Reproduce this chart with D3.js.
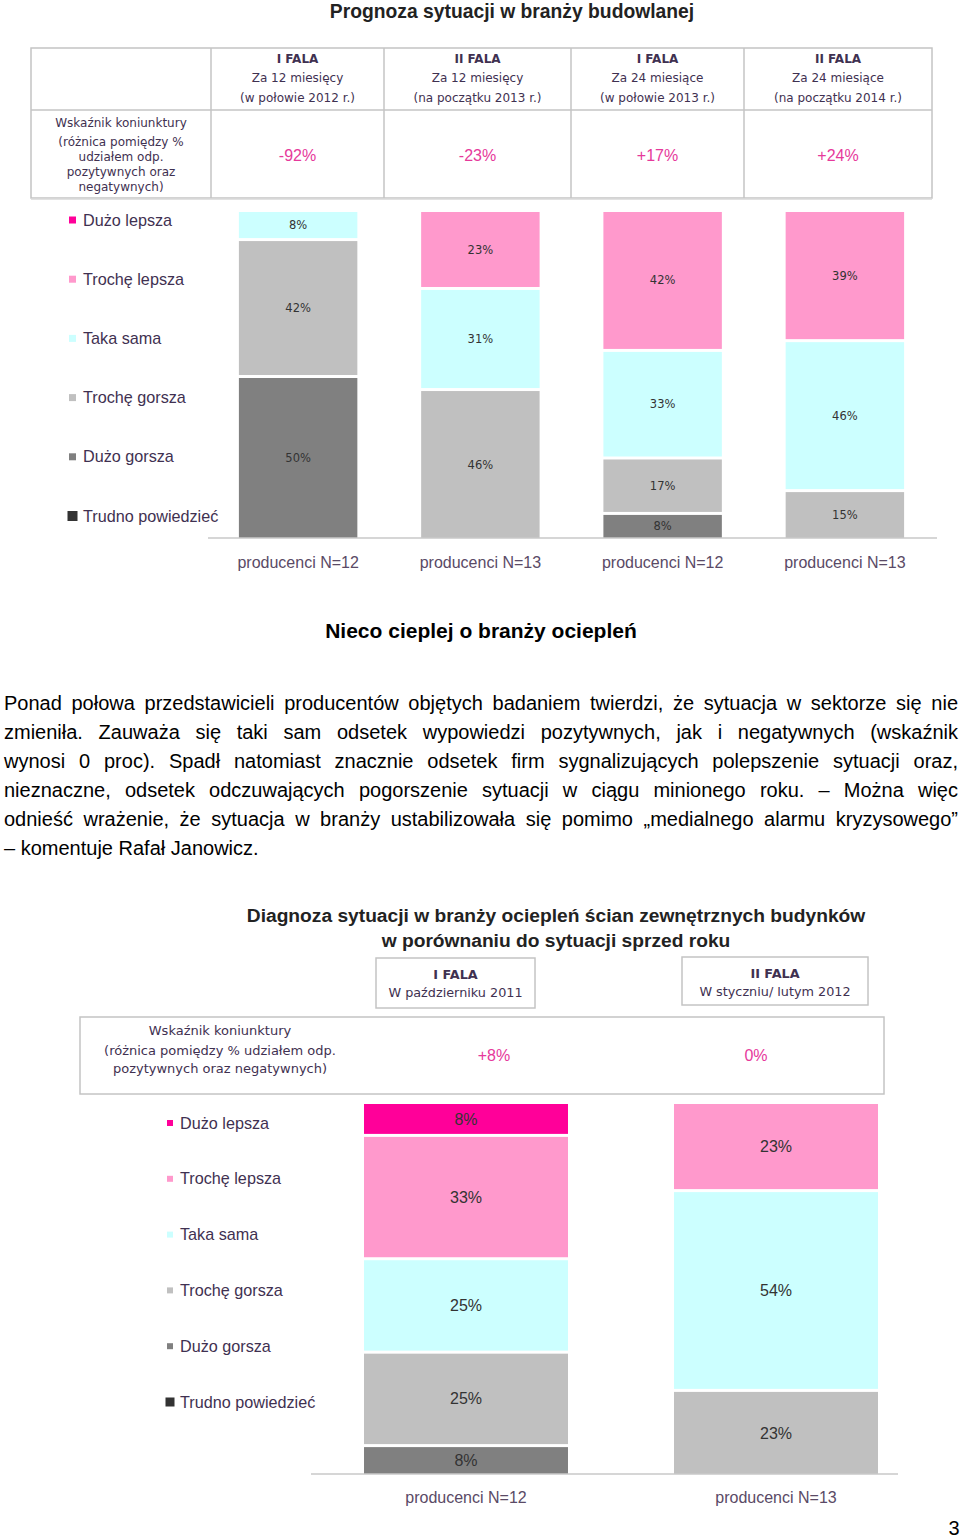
<!DOCTYPE html>
<meta charset="utf-8">
<head>
  <title>Prognoza / Diagnoza sytuacji</title>
  <style>
    body { margin: 0; background: #fff; }
    #page { position: relative; width: 960px; height: 1540px; }
    #viz { position: absolute; left: 0; top: 0; }
    #text {
      position: absolute; left: 4px; top: 689px; width: 954px;
      font-family: "Liberation Sans", Arial, sans-serif; font-size: 20px;
      line-height: 29px; color: #000;
    }
    #text div { white-space: nowrap; text-align: justify; text-align-last: justify; }
    #text div.last { text-align-last: left; }
  </style>
</head>
<body>
  <div id="page">
    <svg id="viz" width="960" height="1540"></svg>
    <div id="text"></div>
  </div>

  <script src="https://d3js.org/d3.v7.min.js"></script>
  <script>
    // categories (from top of a bar to its bottom)
    var keys = ["Dużo lepsza", "Trochę lepsza", "Taka sama", "Trochę gorsza", "Dużo gorsza", "Trudno powiedzieć"];
    var colors = ["#ff0099", "#ff99cc", "#ccffff", "#c0c0c0", "#808080", "#333333"];

    // top chart: Prognoza sytuacji w branży budowlanej
    var topGroups = ["producenci N=12", "producenci N=13", "producenci N=12", "producenci N=13"];
    var topWaves = ["I FALA", "II FALA", "I FALA", "II FALA"];
    var topPeriods = ["Za 12 miesięcy", "Za 12 miesięcy", "Za 24 miesiące", "Za 24 miesiące"];
    var topDates = ["(w połowie 2012 r.)", "(na początku 2013 r.)", "(w połowie 2013 r.)", "(na początku 2014 r.)"];
    var topIndex = ["-92%", "-23%", "+17%", "+24%"];
    var topDuzoLepsza = [0, 0, 0, 0];
    var topTrocheLepsza = [0, 23, 42, 39];
    var topTakaSama = [8, 31, 33, 46];
    var topTrocheGorsza = [42, 46, 17, 15];
    var topDuzoGorsza = [50, 0, 8, 0];
    var topTrudno = [0, 0, 0, 0];

    // bottom chart: Diagnoza sytuacji w branży ociepleń
    var botGroups = ["producenci N=12", "producenci N=13"];
    var botWaves = ["I FALA", "II FALA"];
    var botDates = ["W październiku 2011", "W styczniu/ lutym 2012"];
    var botIndex = ["+8%", "0%"];
    var botDuzoLepsza = [8, 0];
    var botTrocheLepsza = [33, 23];
    var botTakaSama = [25, 54];
    var botTrocheGorsza = [25, 23];
    var botDuzoGorsza = [8, 0];
    var botTrudno = [0, 0];

    var paragraph = [
      "Ponad połowa przedstawicieli producentów objętych badaniem twierdzi, że sytuacja w sektorze się nie",
      "zmieniła. Zauważa się taki sam odsetek wypowiedzi pozytywnych, jak i negatywnych (wskaźnik",
      "wynosi 0 proc). Spadł natomiast znacznie odsetek firm sygnalizujących polepszenie sytuacji oraz,",
      "nieznaczne, odsetek odczuwających pogorszenie sytuacji w ciągu minionego roku. – Można więc",
      "odnieść wrażenie, że sytuacja w branży ustabilizowała się pomimo „medialnego alarmu kryzysowego”",
      "– komentuje Rafał Janowicz."
    ];

    var svg = d3.select("#viz");
    var txtColor = "#3f3151";
    var pink = "#e6399b";
    var sans = "Liberation Sans, Arial, sans-serif";
    var verd = "DejaVu Sans, Verdana, sans-serif";
    var color = d3.scaleOrdinal(keys, colors);

    function rows(series) {
      return series[0].map(function (_, i) {
        var r = { i: i };
        keys.forEach(function (k, j) { r[k] = series[j][i]; });
        return r;
      });
    }

    function drawBars(g, data, groups, x, y, o) {
      var stack = d3.stack().keys(keys).offset(d3.stackOffsetExpand);
      var layers = stack(data);
      var gap = 3;

      var layer = g.selectAll("g.layer")
        .data(layers)
        .join("g")
        .attr("class", "layer")
        .attr("fill", d => color(d.key));

      layer.selectAll("rect")
        .data(d => d.filter(s => s[1] - s[0] > 1e-6))
        .join("rect")
        .attr("x", d => x(d.data.i))
        .attr("width", x.bandwidth())
        .attr("y", d => y(d[0]) + (d[0] > 1e-6 ? gap : 0))
        .attr("height", d => y(d[1]) - y(d[0]) - (d[0] > 1e-6 ? gap : 0));

      layers.forEach(function (l) {
        g.selectAll(null)
          .data(l.filter(s => s[1] - s[0] > 1e-6))
          .join("text")
          .attr("x", d => x(d.data.i) + x.bandwidth() / 2)
          .attr("y", d => (y(d[0]) + (d[0] > 1e-6 ? gap : 0) + y(d[1])) / 2)
          .attr("dy", "0.35em")
          .attr("text-anchor", "middle")
          .attr("font-family", o.barFont)
          .attr("font-size", o.barSize)
          .attr("fill", "#333")
          .text(d => d.data[l.key] + "%");
      });

      // baseline + category labels
      var axis = d3.axisBottom(x).tickSize(0).tickPadding(o.tickPad).tickFormat(i => groups[i]);
      var ax = g.append("g")
        .attr("transform", "translate(0," + y.range()[1] + ")")
        .call(axis);
      ax.select(".domain").remove();
      ax.append("line")
        .attr("x1", o.base[0]).attr("x2", o.base[1])
        .attr("stroke", "#c8c8c8").attr("stroke-width", 1.5);
      ax.selectAll(".tick text")
        .attr("font-family", sans)
        .attr("font-size", o.tickSize)
        .attr("fill", "#5a4a66");
    }

    function drawLegend(g, y, o) {
      var last = keys.length - 1;
      var item = g.selectAll("g.leg")
        .data(keys)
        .join("g")
        .attr("class", "leg")
        .attr("transform", d => "translate(" + o.x + "," + y(d) + ")");
      item.append("rect")
        .attr("x", (d, i) => i === last ? -1.5 : 0)
        .attr("y", (d, i) => i === last ? -o.sq / 2 - 1.5 : -o.sq / 2)
        .attr("width", (d, i) => i === last ? o.sq + 3 : o.sq)
        .attr("height", (d, i) => i === last ? o.sq + 3 : o.sq)
        .attr("fill", d => color(d));
      item.append("text")
        .attr("x", o.sq + o.pad)
        .attr("dy", "0.35em")
        .attr("font-family", sans)
        .attr("font-size", o.size)
        .attr("fill", txtColor)
        .text(d => d);
    }

    // ---------- top chart ----------
    svg.append("text")
      .attr("x", 512).attr("y", 11).attr("dy", "0.35em")
      .attr("text-anchor", "middle")
      .attr("font-family", sans)
      .attr("font-weight", "bold").attr("font-size", 19.3)
      .attr("fill", "#222")
      .text("Prognoza sytuacji w branży budowlanej");

    var tbl = svg.append("g");
    var colEdges = [211, 384, 571, 744, 932];
    var lineCol = "#c4c4c4";
    tbl.append("rect")
      .attr("x", 31).attr("y", 48).attr("width", 901).attr("height", 150)
      .attr("fill", "none").attr("stroke", lineCol).attr("stroke-width", 1.5);
    tbl.append("line").attr("x1", 31).attr("x2", 932).attr("y1", 110).attr("y2", 110)
      .attr("stroke", lineCol).attr("stroke-width", 1.5);
    tbl.append("line").attr("x1", 31).attr("x2", 932).attr("y1", 199).attr("y2", 199)
      .attr("stroke", "#d8d8d8").attr("stroke-width", 1.5);
    tbl.selectAll("line.col")
      .data(colEdges.slice(0, 4))
      .join("line")
      .attr("class", "col")
      .attr("x1", d => d).attr("x2", d => d)
      .attr("y1", 48).attr("y2", 198)
      .attr("stroke", lineCol).attr("stroke-width", 1.5);

    var hdr = tbl.selectAll("g.hdr")
      .data(d3.range(4))
      .join("g")
      .attr("class", "hdr")
      .attr("transform", d => "translate(" + (colEdges[d] + colEdges[d + 1]) / 2 + ",0)")
      .attr("text-anchor", "middle")
      .attr("font-family", verd)
      .attr("font-size", 12)
      .attr("fill", txtColor);
    hdr.append("text").attr("y", 59).attr("dy", "0.35em").attr("font-weight", "bold").text(d => topWaves[d]);
    hdr.append("text").attr("y", 78).attr("dy", "0.35em").text(d => topPeriods[d]);
    hdr.append("text").attr("y", 98).attr("dy", "0.35em").text(d => topDates[d]);
    hdr.append("text").attr("y", 155).attr("dy", "0.35em")
      .attr("font-family", sans)
      .attr("font-size", 16).attr("fill", pink)
      .text(d => topIndex[d]);

    tbl.selectAll("text.lbl")
      .data(["Wskaźnik koniunktury", "(różnica pomiędzy %", "udziałem odp.", "pozytywnych oraz", "negatywnych)"])
      .join("text")
      .attr("class", "lbl")
      .attr("x", 121)
      .attr("y", (d, i) => i === 0 ? 123 : 142 + (i - 1) * 15)
      .attr("dy", "0.35em")
      .attr("text-anchor", "middle")
      .attr("font-family", verd)
      .attr("font-size", 12)
      .attr("fill", txtColor)
      .text(d => d);

    var topData = rows([topDuzoLepsza, topTrocheLepsza, topTakaSama, topTrocheGorsza, topDuzoGorsza, topTrudno]);
    var xTop = d3.scaleBand().domain(d3.range(topGroups.length)).range([207, 936]).paddingInner(0.35).paddingOuter(0.175);
    var yTop = d3.scaleLinear().domain([0, 1]).range([212, 538]);
    drawBars(svg.append("g"), topData, topGroups, xTop, yTop,
      { barFont: verd, barSize: 11.5, tickSize: 16, tickPad: 19, base: [208, 937] });
    drawLegend(svg.append("g"), d3.scalePoint().domain(keys).range([220, 516]),
      { x: 69, sq: 7, pad: 7, size: 16.2 });

    // ---------- heading + paragraph ----------
    svg.append("text")
      .attr("x", 481).attr("y", 631).attr("dy", "0.35em")
      .attr("text-anchor", "middle")
      .attr("font-family", sans)
      .attr("font-weight", "bold").attr("font-size", 21)
      .attr("fill", "#000")
      .text("Nieco cieplej o branży ociepleń");

    d3.select("#text").selectAll("div")
      .data(paragraph)
      .join("div")
      .classed("last", (d, i) => i === paragraph.length - 1)
      .text(d => d);

    // ---------- bottom chart ----------
    svg.selectAll("text.btitle")
      .data(["Diagnoza sytuacji w branży ociepleń ścian zewnętrznych budynków", "w porównaniu do sytuacji sprzed roku"])
      .join("text")
      .attr("class", "btitle")
      .attr("x", 556).attr("y", (d, i) => 915 + i * 25).attr("dy", "0.35em")
      .attr("text-anchor", "middle")
      .attr("font-family", sans)
      .attr("font-weight", "bold").attr("font-size", 19.2)
      .attr("fill", "#222")
      .text(d => d);

    var boxes = [[376, 958, 159, 50], [682, 957, 186, 48]];
    var hb = svg.selectAll("g.hbox")
      .data(d3.range(2))
      .join("g")
      .attr("class", "hbox");
    hb.append("rect")
      .attr("x", d => boxes[d][0]).attr("y", d => boxes[d][1])
      .attr("width", d => boxes[d][2]).attr("height", d => boxes[d][3])
      .attr("fill", "#fff").attr("stroke", lineCol).attr("stroke-width", 1.5);
    hb.append("text")
      .attr("x", d => boxes[d][0] + boxes[d][2] / 2).attr("y", d => boxes[d][1] + 17).attr("dy", "0.35em")
      .attr("text-anchor", "middle")
      .attr("font-family", verd).attr("font-size", 12.8)
      .attr("font-weight", "bold").attr("fill", txtColor)
      .text(d => botWaves[d]);
    hb.append("text")
      .attr("x", d => boxes[d][0] + boxes[d][2] / 2).attr("y", d => boxes[d][1] + 35).attr("dy", "0.35em")
      .attr("text-anchor", "middle")
      .attr("font-family", verd).attr("font-size", 12.8)
      .attr("fill", txtColor)
      .text(d => botDates[d]);

    svg.append("rect")
      .attr("x", 80).attr("y", 1017).attr("width", 804).attr("height", 77)
      .attr("fill", "none").attr("stroke", lineCol).attr("stroke-width", 1.5);
    svg.selectAll("text.blbl")
      .data(["Wskaźnik koniunktury", "(różnica pomiędzy % udziałem odp.", "pozytywnych oraz negatywnych)"])
      .join("text")
      .attr("class", "blbl")
      .attr("x", 220).attr("y", (d, i) => i === 0 ? 1030 : 1050 + (i - 1) * 18).attr("dy", "0.35em")
      .attr("text-anchor", "middle")
      .attr("font-family", verd).attr("font-size", 13)
      .attr("fill", txtColor)
      .text(d => d);
    svg.selectAll("text.bidx")
      .data(botIndex)
      .join("text")
      .attr("class", "bidx")
      .attr("x", (d, i) => [494, 756][i]).attr("y", 1055).attr("dy", "0.35em")
      .attr("text-anchor", "middle")
      .attr("font-family", sans).attr("font-size", 16)
      .attr("fill", pink)
      .text(d => d);

    var botData = rows([botDuzoLepsza, botTrocheLepsza, botTakaSama, botTrocheGorsza, botDuzoGorsza, botTrudno]);
    var xBot = d3.scaleBand().domain(d3.range(botGroups.length)).range([311, 931]).paddingInner(0.342).paddingOuter(0.171);
    var yBot = d3.scaleLinear().domain([0, 1]).range([1104, 1474]);
    drawBars(svg.append("g"), botData, botGroups, xBot, yBot,
      { barFont: sans, barSize: 16, tickSize: 16, tickPad: 18, base: [311, 898] });
    drawLegend(svg.append("g"), d3.scalePoint().domain(keys).range([1123, 1402]),
      { x: 167, sq: 6, pad: 7, size: 16.2 });

    svg.append("text")
      .attr("x", 954).attr("y", 1528).attr("dy", "0.35em")
      .attr("text-anchor", "middle")
      .attr("font-family", sans).attr("font-size", 20)
      .attr("fill", "#000")
      .text("3");
  </script>
</body>
</html>
